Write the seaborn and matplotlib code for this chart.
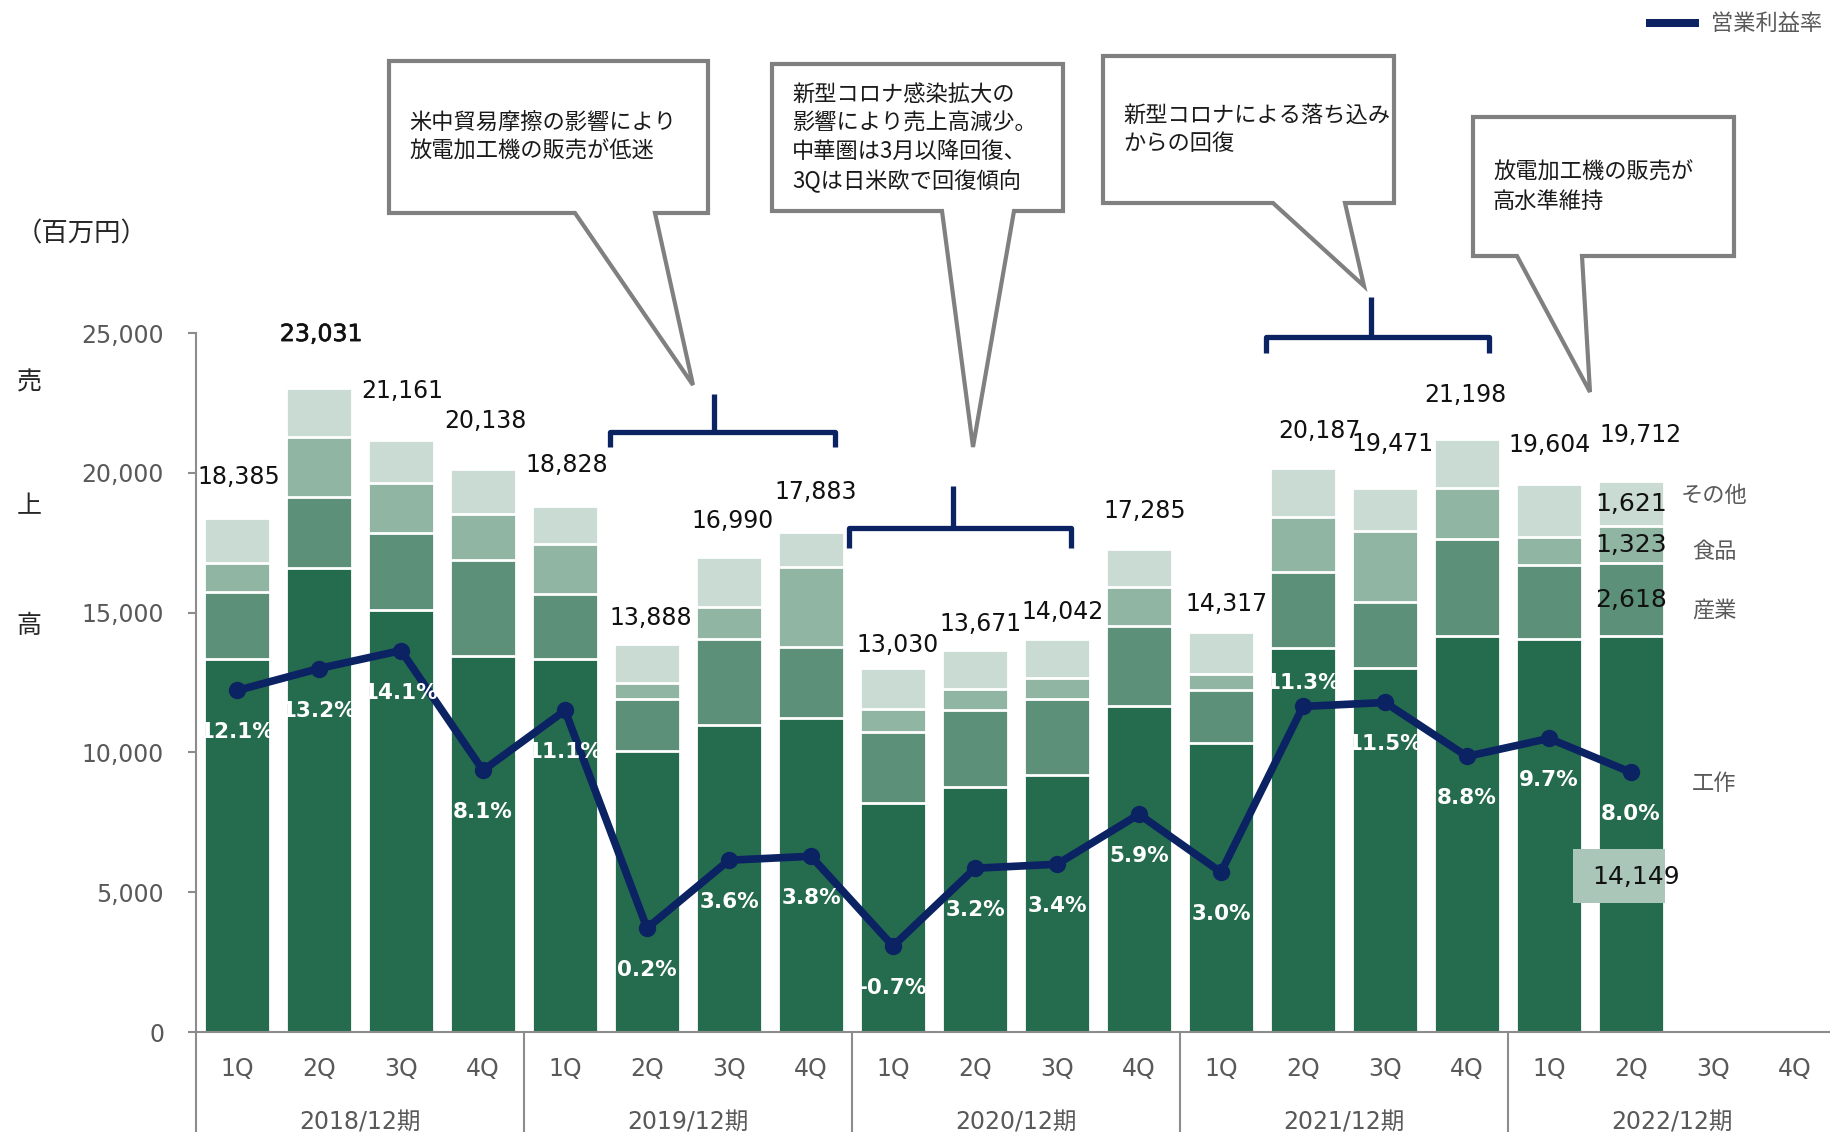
import numpy as np
import pandas as pd
import matplotlib
matplotlib.use("Agg")
import matplotlib.pyplot as plt
import seaborn as sns
from matplotlib.patches import Polygon, Rectangle
from matplotlib.lines import Line2D
import matplotlib.transforms as mtransforms
import matplotlib.patheffects as pe
from matplotlib.ticker import FuncFormatter

# ---------------- data ----------------
years = ["2018/12期", "2019/12期", "2020/12期", "2021/12期", "2022/12期"]
quarters = ["1Q", "2Q", "3Q", "4Q"]
segment_names = ["工作", "産業", "食品", "その他"]

kosaku = [13330, 16585, 15095, 13450, 13330, 10050, 10980, 11220, 8200, 8775,
          9190, 11660, 10350, 13725, 13030, 14175, 14045, 14149]
sangyo = [2420, 2560, 2765, 3430, 2325, 1850, 3065, 2560, 2540, 2745,
          2710, 2870, 1885, 2715, 2340, 3455, 2660, 2618]
shokuhin = [1015, 2145, 1790, 1635, 1790, 595, 1145, 2840, 800, 740,
            750, 1395, 560, 1990, 2550, 1835, 1010, 1323]
sonota = [1620, 1741, 1511, 1623, 1383, 1393, 1800, 1263, 1490, 1411,
          1392, 1360, 1522, 1757, 1551, 1733, 1889, 1621]
totals = [18385, 23031, 21161, 20138, 18828, 13888, 16990, 17883, 13030, 13671,
          14042, 17285, 14317, 20187, 19471, 21198, 19604, 19712]
margin = [12.1, 13.2, 14.1, 8.1, 11.1, 0.2, 3.6, 3.8, -0.7, 3.2,
          3.4, 5.9, 3.0, 11.3, 11.5, 8.8, 9.7, 8.0]

callout_texts = [
    ["米中貿易摩擦の影響により", "放電加工機の販売が低迷"],
    ["新型コロナ感染拡大の", "影響により売上高減少。", "中華圏は3月以降回復、", "3Qは日米欧で回復傾向"],
    ["新型コロナによる落ち込み", "からの回復"],
    ["放電加工機の販売が", "高水準維持"],
]

# ---------------- layout (pixels) ----------------
W, H = 1831, 1132
AX_L, AX_B, AX_T = 196, 1032, 333
SLOT = 82
total_dx = [2, 2, 1, 2, 2, 4, 4, 5, 5, 5, 6, 6, 6, 16, 7, -2, 1, 10]
total_dy = [41, 54, 49, 48, 41, 26, 36, 40, 23, 26, 27, 38, 28, 37, 44, 44, 39, 46]
pct_dy = [-42] * 13 + [23] + [-42] * 4

callout_boxes = [  # left, top, right, bottom, tail base l, tail base r, tip x, tip y
    (389, 61, 708, 213, 575, 655, 693, 385),
    (772, 64, 1063, 211, 942, 1014, 973, 447),
    (1103, 56, 1394, 203, 1273, 1345, 1364, 286),
    (1473, 117, 1734, 256, 1517, 1582, 1590, 392),
]
brackets = [  # left, right, y, y_end, tick x, tick top
    (610, 835, 432, 447, 714, 394),
    (849, 1071, 528, 548, 953, 486),
    (1266, 1489, 337, 353, 1371, 297),
]

c_dark = "#256C4E"
c_mid = "#5C9079"
c_light = "#91B5A3"
c_lightest = "#C9DBD2"
c_box = "#A9C6B8"
navy = "#0B2263"
axis_gray = "#8C8C8C"
txt_gray = "#595959"
JP = ["Noto Sans CJK JP", "DejaVu Sans"]

sns.set_theme(style="ticks")
plt.rcParams["font.family"] = ["DejaVu Sans", "Noto Sans CJK JP"]

fig = plt.figure(figsize=(W / 100, H / 100), dpi=100)
fig.patch.set_facecolor("white")
ax = fig.add_axes([AX_L / W, (H - AX_B) / H, 20 * SLOT / W, (AX_B - AX_T) / H])

n = len(kosaku)
pos = np.arange(n)
df = pd.DataFrame({"pos": pos, "工作": kosaku, "産業": sangyo, "食品": shokuhin, "その他": sonota})
cum1 = df["工作"]
cum2 = cum1 + df["産業"]
cum3 = cum2 + df["食品"]
cum4 = cum3 + df["その他"]

for heights, col in [(cum4, c_lightest), (cum3, c_light), (cum2, c_mid), (cum1, c_dark)]:
    sns.barplot(x=df["pos"], y=heights, native_scale=True, width=0.81, color=col,
                saturation=1, edgecolor="white", linewidth=2, errorbar=None, ax=ax)

ax.set_xlim(-0.5, 19.5)
ax.set_ylim(0, 25000)
ax.set_xlabel("")
ax.set_ylabel("")
ax.set_yticks(np.arange(0, 25001, 5000))
ax.yaxis.set_major_formatter(FuncFormatter(lambda v, p: f"{int(v):,}"))
ax.set_xticks(np.arange(20))
ax.set_xticklabels(quarters * len(years))
ax.tick_params(axis="y", left=True, length=6, width=1.5, color=axis_gray, pad=17,
               labelsize=17, labelcolor=txt_gray, direction="out")
ax.tick_params(axis="x", bottom=True, length=0, pad=18, labelsize=17, labelcolor=txt_gray)
for s in ["top", "right"]:
    ax.spines[s].set_visible(False)
for s in ["left", "bottom"]:
    ax.spines[s].set_color(axis_gray)
    ax.spines[s].set_linewidth(1.5)
ax.grid(False)
ax.set_facecolor("none")

# total labels
for i, t in enumerate(totals):
    kw = {}
    if t == max(totals):
        kw["path_effects"] = [pe.withStroke(linewidth=0.45, foreground="#111111")]
    ax.annotate(f"{t:,}", (pos[i], cum4[i]), xytext=(total_dx[i], total_dy[i]),
                textcoords="offset pixels", ha="center", va="center",
                fontsize=17, color="#111111", **kw)

# segment labels on last bar
last = n - 1
for lo, hi, val in [(cum2[last], cum3[last], shokuhin[last]), (cum3[last], cum4[last], sonota[last]),
                    (cum1[last], cum2[last], sangyo[last])]:
    ax.text(pos[last], (lo + hi) / 2, f"{val:,}", ha="center", va="center",
            fontsize=18, color="#111111")

# year separators and year labels
blend = mtransforms.blended_transform_factory(ax.transData, fig.transFigure)
for g in range(len(years)):
    xb = g * 4 - 0.5
    fig.add_artist(Line2D([xb, xb], [0, (H - AX_B) / H], transform=blend,
                          color=axis_gray, lw=1.5))
    ax.text(g * 4 + 1.5, (H - 1130) / H, years[g], transform=blend, ha="center",
            va="baseline", fontsize=17, color=txt_gray, clip_on=False)

# operating margin line
ax2 = ax.twinx()
sns.lineplot(x=pos, y=margin, ax=ax2, color=navy, linewidth=5.5, marker="o",
             markersize=12.5, markeredgewidth=0)
ax2.set_ylim(-5, 30)
ax2.set_xlim(-0.5, 19.5)
ax2.set_yticks([])
ax2.set_ylabel("")
for s in ax2.spines.values():
    s.set_visible(False)
for i, m in enumerate(margin):
    ax2.annotate(f"{m:.1f}%", (pos[i], m), xytext=(0, pct_dy[i]), textcoords="offset pixels",
                 ha="center", va="center", fontsize=15.5, fontweight="bold", color="white")

# ---------------- overlay annotations ----------------
ov = fig.add_axes([0, 0, 1, 1])
ov.set_xlim(0, W)
ov.set_ylim(H, 0)
ov.axis("off")
ov.patch.set_alpha(0)

for (l, t, r, b, bl, br, tx, ty), lines in zip(callout_boxes, callout_texts):
    pts = [(l, t), (r, t), (r, b), (br, b), (tx, ty), (bl, b), (l, b)]
    ov.add_patch(Polygon(pts, closed=True, facecolor="white", edgecolor="#808080",
                         lw=3, joinstyle="miter"))
    cy = (t + b) / 2
    k = len(lines)
    for j, line in enumerate(lines):
        ov.text(l + 20, cy + (j - (k - 1) / 2) * 29, line, ha="left", va="center",
                fontsize=16, color="#1a1a1a", family=JP)

for (l, r, y, ye, tx, tt) in brackets:
    ov.plot([l, l, r, r], [ye, y, y, ye], color=navy, lw=3.8,
            solid_joinstyle="round", solid_capstyle="butt")
    ov.plot([tx, tx], [y, tt], color=navy, lw=3.8, solid_capstyle="butt")

# legend
ov.add_patch(Rectangle((1646, 19), 53, 8, facecolor=navy, edgecolor="none"))
ov.text(1711, 23, "営業利益率", ha="left", va="center", fontsize=16, color=txt_gray, family=JP)

# unit and axis title
ov.text(82, 234, "（百万円）", ha="center", va="center", fontsize=19, color="#262626", family=JP)
for ch, yy in zip("売上高", [383, 506, 626]):
    ov.text(29, yy, ch, ha="center", va="center", fontsize=18, color="#262626", family=JP)

# segment names at right
for name, yy in zip(["その他", "食品", "産業", "工作"], [495, 552, 610, 783]):
    ov.text(1714, yy, name, ha="center", va="center", fontsize=16, color=txt_gray, family=JP)

# highlighted 工作 value of last bar
ov.add_patch(Rectangle((1573, 849), 92, 54, facecolor=c_box, edgecolor="none"))
ov.text(1636, 877, f"{kosaku[-1]:,}", ha="center", va="center", fontsize=18, color="#111111")

fig.savefig("out.png", dpi=100)
